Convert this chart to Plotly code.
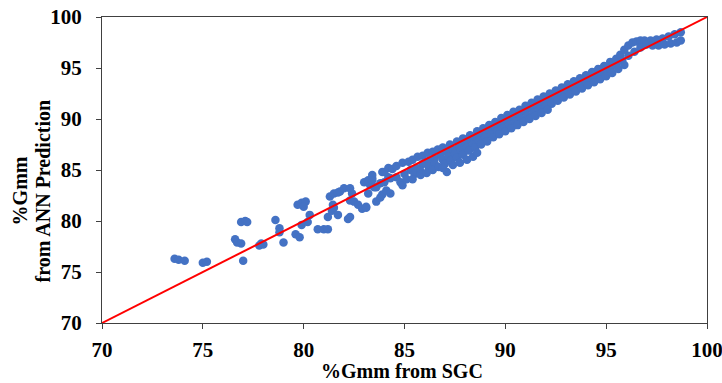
import plotly.graph_objects as go

# Sparse points (low-density region)
sgc_sparse = [73.6, 73.8, 74.1, 75.0, 75.2, 76.6, 76.7, 76.9, 76.9, 77.1, 77.2, 77.0,
              77.8, 77.9, 78.0, 78.6, 78.8, 78.8, 79.0, 79.6, 79.8, 79.7, 79.9, 80.1,
              80.0, 80.3, 79.9, 80.2, 80.7, 81.0, 81.2, 81.2, 81.4, 81.5, 81.3, 81.5,
              81.7, 81.8, 82.0, 81.7, 82.2, 82.3, 82.3, 82.4, 82.3, 82.5, 82.7, 82.9,
              83.1, 83.0, 83.2, 83.4, 83.3, 83.2, 83.6, 83.8, 83.9, 81.45, 83.1,
              83.4, 83.4, 83.9, 84.2, 84.4, 84.0, 84.3, 84.6, 83.6, 84.8, 84.9, 84.1,
              84.3, 84.2, 83.8, 83.5, 84.6, 84.0]
ann_sparse = [76.3, 76.2, 76.1, 75.9, 76.0, 78.2, 77.9, 77.8, 79.9, 80.0, 79.9, 76.1,
              77.6, 77.8, 77.7, 80.1, 79.3, 78.9, 77.9, 78.7, 78.4, 81.6, 81.8, 81.9,
              81.4, 80.6, 79.6, 79.9, 79.2, 79.2, 79.2, 80.4, 81.0, 81.3, 82.4, 82.7,
              82.8, 82.9, 83.2, 80.6, 80.2, 80.4, 83.2, 82.7, 82.0, 81.9, 81.6, 81.2,
              81.3, 83.8, 84.0, 84.2, 83.5, 82.7, 81.9, 82.3, 82.6, 81.6, 81.4,
              84.5, 84.0, 84.8, 85.2, 85.1, 83.8, 84.2, 84.3, 83.3, 83.8, 83.5, 83.0,
              82.7, 84.3, 83.7, 83.3, 85.4, 84.8]

# Dense band, upper edge row
sgc_band_a = [84.9, 85.2, 85.4, 85.65, 85.9, 86.15, 86.4, 86.65, 86.9, 87.25, 87.6, 87.9,
              88.25, 88.6, 88.9, 89.2, 89.5, 89.8, 90.1, 90.4, 90.7, 91.0, 91.3, 91.6,
              91.9, 92.2, 92.5, 92.8, 93.1, 93.4, 93.7, 94.0, 94.3, 94.6, 94.9, 95.2,
              95.5, 95.7, 95.9, 96.1, 96.3, 96.5, 96.7, 96.9, 97.2, 97.5, 97.8, 98.1,
              98.4, 98.7]
ann_band_a = [85.7, 85.8, 86.0, 86.3, 86.4, 86.7, 86.8, 87.0, 87.2, 87.5, 87.8, 88.1,
              88.4, 88.8, 89.1, 89.4, 89.7, 90.1, 90.4, 90.7, 90.9, 91.3, 91.6, 91.9,
              92.2, 92.5, 92.8, 93.1, 93.4, 93.7, 94.0, 94.3, 94.6, 94.9, 95.2, 95.6,
              95.9, 96.3, 96.8, 97.2, 97.5, 97.6, 97.7, 97.7, 97.7, 97.8, 97.9, 98.1,
              98.3, 98.5]

# Dense band, middle row
sgc_band_b = [85.0, 85.3, 85.6, 85.9, 86.2, 86.5, 86.8, 87.1, 87.4, 87.7, 88.0, 88.3,
              88.6, 88.9, 89.2, 89.5, 89.8, 90.1, 90.4, 90.7, 91.0, 91.3, 91.6, 91.9,
              92.2, 92.5, 92.8, 93.1, 93.4, 93.7, 94.0, 94.3, 94.6, 94.9, 95.2, 95.5,
              95.8, 96.1, 96.4, 96.7, 97.0, 97.3, 97.6, 97.9, 98.2, 98.5, 98.7]
ann_band_b = [84.6, 85.0, 85.2, 85.6, 85.9, 86.1, 86.5, 86.8, 87.0, 87.4, 87.7, 88.0,
              88.2, 88.6, 88.9, 89.2, 89.5, 89.8, 90.1, 90.4, 90.7, 91.0, 91.3, 91.6,
              91.9, 92.2, 92.5, 92.8, 93.1, 93.4, 93.7, 94.0, 94.3, 94.6, 94.9, 95.3,
              95.7, 96.2, 96.6, 97.0, 97.3, 97.2, 97.2, 97.3, 97.4, 97.5, 97.7]

# Dense band, lower row
sgc_band_c = [85.1, 85.5, 85.8, 86.2, 86.5, 86.9, 87.2, 87.5, 87.8, 88.1, 88.4, 88.7,
              89.0, 89.3, 89.6, 89.9, 90.2, 90.5, 90.8, 91.1, 91.4, 91.7, 92.0, 92.3,
              92.6, 92.9, 93.2, 93.5, 93.8, 94.1, 94.4, 94.7, 95.0, 95.3, 95.6, 95.9]
ann_band_c = [84.1, 84.6, 84.9, 85.3, 85.6, 86.0, 86.3, 86.6, 86.9, 87.2, 87.5, 87.9,
              88.2, 88.5, 88.8, 89.1, 89.4, 89.7, 90.0, 90.3, 90.6, 90.9, 91.2, 91.5,
              91.8, 92.1, 92.4, 92.7, 93.0, 93.3, 93.6, 93.9, 94.2, 94.5, 94.9, 95.3]

# Dense band, bottom row
sgc_band_d = [85.4, 85.8, 86.1, 86.4, 86.7, 87.0, 87.3, 87.6, 87.9, 88.2, 88.5, 88.8,
              89.1, 89.4, 89.7, 90.0, 90.3, 90.6, 90.9, 91.2, 91.5, 91.8, 92.1,
              86.9, 87.1, 87.4, 87.75, 88.1, 88.4, 88.6]
ann_band_d = [84.1, 84.5, 84.7, 85.0, 85.3, 85.6, 85.9, 86.2, 86.5, 86.9, 87.2, 87.5,
              87.8, 88.2, 88.5, 88.8, 89.1, 89.4, 89.7, 90.0, 90.3, 90.6, 90.9,
              85.2, 84.8, 85.5, 85.7, 86.0, 86.3, 86.7]

sgc_all = sgc_sparse + sgc_band_a + sgc_band_b + sgc_band_c + sgc_band_d
ann_all = ann_sparse + ann_band_a + ann_band_b + ann_band_c + ann_band_d

line_x = [70, 100]
line_y = [70, 100]

x_ticks = [70, 75, 80, 85, 90, 95, 100]
y_ticks = [70, 75, 80, 85, 90, 95, 100]

x_title = "%Gmm from SGC"
y_title_lines = ["%Gmm", "from ANN Prediction"]

FONT = "Liberation Serif"
TICK_FONT = dict(family=FONT, size=21, color="#000000", weight="bold")
TITLE_FONT = dict(family=FONT, size=20, color="#000000", weight="bold")

fig = go.Figure()
fig.add_trace(go.Scatter(
    x=sgc_all, y=ann_all, mode="markers",
    marker=dict(color="#4472C4", size=8.5, line=dict(width=0)),
    showlegend=False, hoverinfo="skip", cliponaxis=False))
fig.add_trace(go.Scatter(
    x=line_x, y=line_y, mode="lines",
    line=dict(color="#FF0000", width=2),
    showlegend=False, hoverinfo="skip"))

axis_common = dict(
    showgrid=False, zeroline=False, showline=True, linecolor="#404040", linewidth=1,
    mirror=True, ticks="outside", ticklen=5, tickcolor="#404040", tickwidth=1,
    tickfont=TICK_FONT, automargin=False, ticklabeloverflow="allow",
)

fig.update_layout(
    width=722, height=383,
    margin=dict(l=102, r=15, t=17, b=60),
    paper_bgcolor="white", plot_bgcolor="white",
    xaxis=dict(range=[70, 100], tickvals=x_ticks, ticktext=[str(t) for t in x_ticks],
               ticklabelstandoff=3, **axis_common),
    yaxis=dict(range=[70, 100], tickvals=y_ticks, ticktext=[str(t) for t in y_ticks],
               ticklabelstandoff=10, **axis_common),
)

# Axis titles placed as annotations for precise positioning
fig.add_annotation(text=x_title, xref="paper", yref="paper", x=0.5, y=0,
                   yshift=-48, xshift=-3, showarrow=False, font=TITLE_FONT,
                   xanchor="center", yanchor="middle")
fig.add_annotation(text=y_title_lines[0], xref="paper", yref="paper", x=0, y=0.43,
                   xshift=-82, showarrow=False, font=TITLE_FONT, textangle=-90,
                   xanchor="center", yanchor="middle")
fig.add_annotation(text=y_title_lines[1], xref="paper", yref="paper", x=0, y=0.43,
                   xshift=-59, showarrow=False, font=TITLE_FONT, textangle=-90,
                   xanchor="center", yanchor="middle")

fig.write_html("out.html")
